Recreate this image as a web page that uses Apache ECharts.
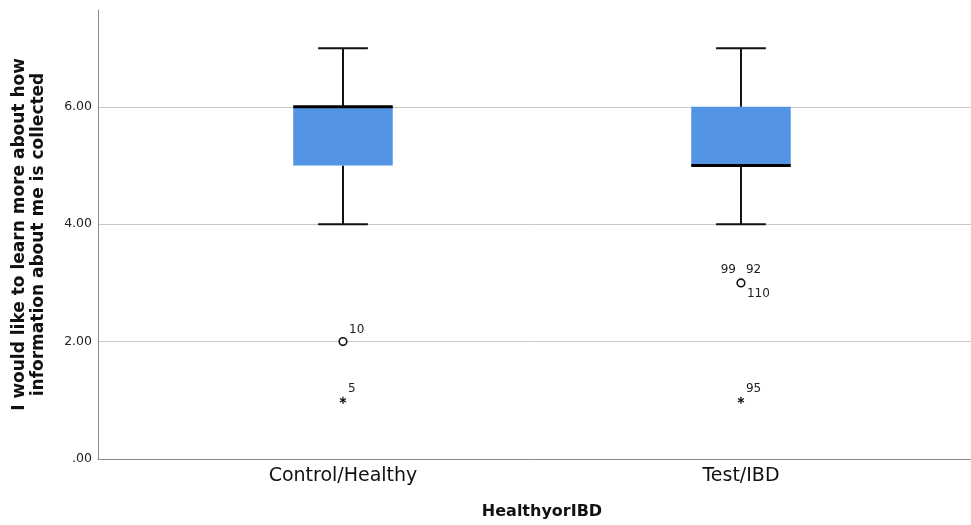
<!DOCTYPE html>
<html>
<head>
<meta charset="utf-8">
<script src="https://cdn.jsdelivr.net/npm/echarts@6/dist/echarts.min.js"></script>
<style>
html,body{margin:0;padding:0;background:#fff;}
#chart{width:971px;height:525px;}
</style>
</head>
<body>
<div id="chart"></div>
<script>
// ---- data ----
const categories = ['Control/Healthy', 'Test/IBD'];
const boxMin    = [4, 4];
const boxQ1     = [5, 5];
const boxMedian = [6, 5];
const boxQ3     = [6, 6];
const boxMax    = [7, 7];
// outliers (circles) and extremes (stars): category index, value, case ids
const outlierCat = [0, 1];
const outlierVal = [2, 3];
const outlierIds = [['10'], ['99', '92', '110']];
const extremeCat = [0, 1];
const extremeVal = [1, 1];
const extremeIds = [['5'], ['95']];
const yTicks = [0, 2, 4, 6];

// ---- style ----
const FONT = 'DejaVu Sans';
const BOX_COLOR = '#5394E4';
const BOX_WIDTH = 0.25;   // in category units
const CAP_WIDTH = 0.125;

const chart = echarts.init(document.getElementById('chart'), null, {renderer: 'canvas'});

function labelOffsets(n) {
  if (n === 1) return [[6, -12, 'left']];
  return [[-5, -13, 'right'], [5, -13, 'left'], [6, 11, 'left']];
}

const option = {
  animation: false,
  backgroundColor: '#fff',
  grid: {left: 98, right: 0, top: 10, bottom: 65, containLabel: false},
  xAxis: {
    type: 'value',
    min: 0.3844, max: 2.578,
    name: 'HealthyorIBD',
    nameLocation: 'middle',
    nameGap: 45,
    nameTextStyle: {fontFamily: FONT, fontWeight: 'bold', fontSize: 16, color: '#111', padding: [0, 0, 0, 15]},
    axisLine: {show: true, lineStyle: {color: '#8a8a8a', width: 1}},
    axisTick: {show: false},
    splitLine: {show: false},
    axisLabel: {
      customValues: [1, 2],
      formatter: v => categories[Math.round(v) - 1] || '',
      fontFamily: FONT, fontSize: 19, color: '#111', margin: 8
    }
  },
  yAxis: {
    type: 'value',
    min: 0, max: 7.65,
    name: 'I would like to learn more about how\ninformation about me is collected',
    nameLocation: 'middle',
    nameGap: 50,
    nameRotate: 90,
    nameTextStyle: {fontFamily: FONT, fontWeight: 'bold', fontSize: 17, color: '#111', lineHeight: 19, align: 'center'},
    axisLine: {show: true, lineStyle: {color: '#8a8a8a', width: 1}},
    axisTick: {show: false},
    axisLabel: {
      customValues: yTicks,
      formatter: v => v === 0 ? '.00' : v.toFixed(2),
      fontFamily: FONT, fontSize: 12.5, color: '#222', margin: 6
    },
    interval: 2,
    splitLine: {show: true, showMinLine: false, showMaxLine: false, lineStyle: {color: '#c8c8c8', width: 1}}
  },
  series: [
    {
      type: 'custom',
      data: categories.map((c, i) => [i + 1, boxMin[i], boxQ1[i], boxMedian[i], boxQ3[i], boxMax[i]]),
      encode: {x: 0, y: [1, 2, 3, 4, 5]},
      renderItem: function (params, api) {
        const x = api.value(0);
        const pMin = api.coord([x, api.value(1)]);
        const pQ1 = api.coord([x, api.value(2)]);
        const pMed = api.coord([x, api.value(3)]);
        const pQ3 = api.coord([x, api.value(4)]);
        const pMax = api.coord([x, api.value(5)]);
        const half = api.size([BOX_WIDTH, 0])[0] / 2;
        const cap = api.size([CAP_WIDTH, 0])[0] / 2;
        const cx = pMin[0];
        const ls = {stroke: '#111', lineWidth: 2};
        return {
          type: 'group',
          children: [
            {type: 'line', shape: {x1: cx, y1: pQ3[1], x2: cx, y2: pMax[1]}, style: ls},
            {type: 'line', shape: {x1: cx, y1: pQ1[1], x2: cx, y2: pMin[1]}, style: ls},
            {type: 'line', shape: {x1: cx - cap, y1: pMax[1], x2: cx + cap, y2: pMax[1]}, style: ls},
            {type: 'line', shape: {x1: cx - cap, y1: pMin[1], x2: cx + cap, y2: pMin[1]}, style: ls},
            {type: 'rect', shape: {x: cx - half, y: pQ3[1], width: half * 2, height: pQ1[1] - pQ3[1]},
              style: {fill: BOX_COLOR, stroke: null}},
            {type: 'line', shape: {x1: cx - half, y1: pMed[1], x2: cx + half, y2: pMed[1]},
              style: {stroke: '#000', lineWidth: 3}}
          ]
        };
      },
      z: 2
    },
    {
      type: 'custom',
      data: outlierCat.map((c, i) => [c + 1, outlierVal[i], i]),
      encode: {x: 0, y: 1},
      renderItem: function (params, api) {
        const p = api.coord([api.value(0), api.value(1)]);
        const ids = outlierIds[api.value(2)];
        const offs = labelOffsets(ids.length);
        const children = [{type: 'circle', shape: {cx: p[0], cy: p[1], r: 3.8},
          style: {fill: '#fff', stroke: '#111', lineWidth: 1.6}}];
        ids.forEach((t, k) => {
          children.push({type: 'text', x: p[0] + offs[k][0], y: p[1] + offs[k][1],
            style: {text: t, fontFamily: FONT, fontSize: 12, fill: '#222', align: offs[k][2], verticalAlign: 'middle'}});
        });
        return {type: 'group', children: children};
      },
      z: 3
    },
    {
      type: 'custom',
      data: extremeCat.map((c, i) => [c + 1, extremeVal[i], i]),
      encode: {x: 0, y: 1},
      renderItem: function (params, api) {
        const p = api.coord([api.value(0), api.value(1)]);
        const ids = extremeIds[api.value(2)];
        const r = 3.5;
        const st = {stroke: '#111', lineWidth: 1.3};
        const children = [];
        for (let a = 0; a < 3; a++) {
          const ang = Math.PI / 2 + a * Math.PI / 3;
          children.push({type: 'line', shape: {x1: p[0] - r * Math.cos(ang), y1: p[1] - r * Math.sin(ang),
            x2: p[0] + r * Math.cos(ang), y2: p[1] + r * Math.sin(ang)}, style: st});
        }
        ids.forEach((t) => {
          children.push({type: 'text', x: p[0] + 5, y: p[1] - 11,
            style: {text: t, fontFamily: FONT, fontSize: 12, fill: '#222', align: 'left', verticalAlign: 'middle'}});
        });
        return {type: 'group', children: children};
      },
      z: 3
    }
  ]
};
chart.setOption(option);
</script>
</body>
</html>
